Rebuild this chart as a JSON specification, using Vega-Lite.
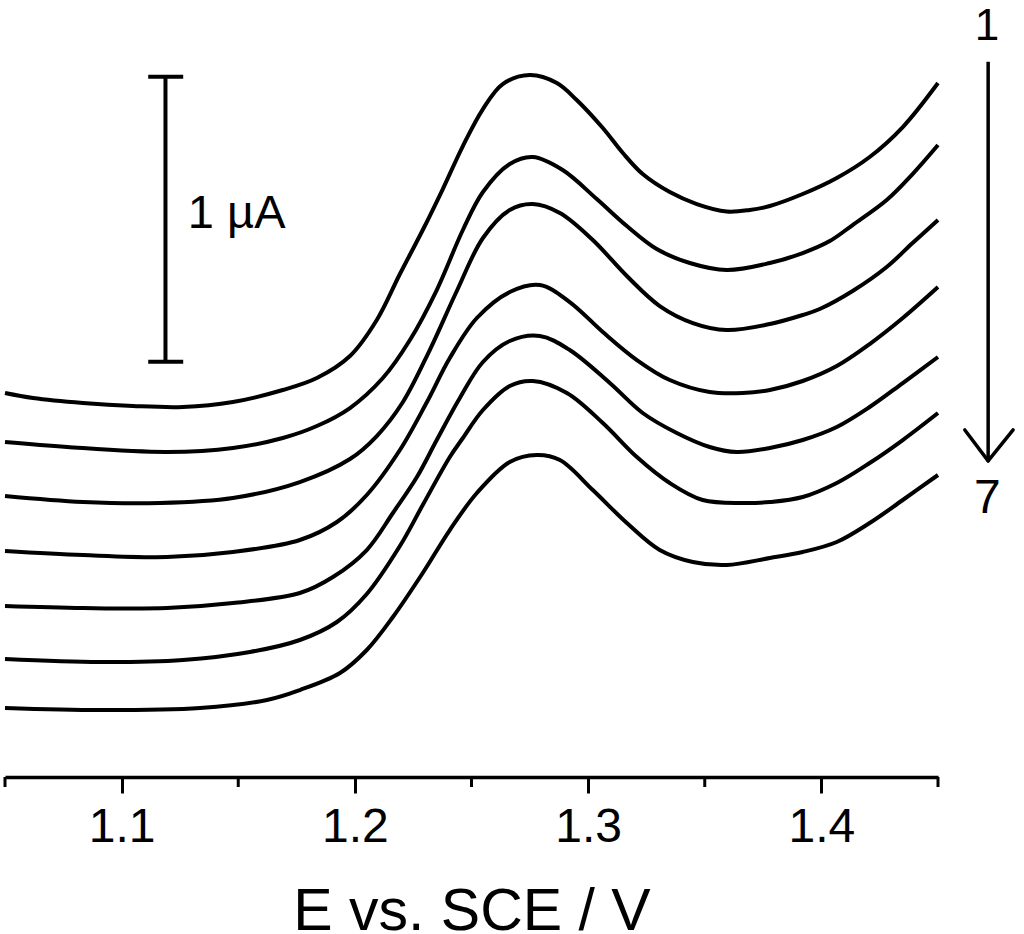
{
  "$schema": "https://vega.github.io/schema/vega-lite/v6.json",
  "width": 933,
  "height": 777,
  "autosize": "none",
  "padding": {"left": 5, "top": 0, "right": 86, "bottom": 157},
  "background": "white",
  "config": {
    "view": {"stroke": null},
    "font": "Liberation Sans",
    "axisX": {
      "grid": false,
      "domainColor": "black", "domainWidth": 3.5,
      "tickColor": "black", "tickWidth": 3, "tickSize": 16,
      "labelFont": "Liberation Sans", "labelFontSize": 48, "labelColor": "black", "labelPadding": 10,
      "titleFont": "Liberation Sans", "titleFontSize": 59, "titleFontWeight": "normal", "titleColor": "black", "titlePadding": 31
    }
  },
  "datasets": {
    "curves": [
      {"scan":1,"E":1.0500,"I":1.3521},{"scan":1,"E":1.0620,"I":1.3345},{"scan":1,"E":1.0834,"I":1.3169},{"scan":1,"E":1.1049,"I":1.3063},{"scan":1,"E":1.1263,"I":1.3028},{"scan":1,"E":1.1477,"I":1.3204},{"scan":1,"E":1.1691,"I":1.3627},{"scan":1,"E":1.1837,"I":1.4049},{"scan":1,"E":1.1979,"I":1.4824},{"scan":1,"E":1.2094,"I":1.6092},{"scan":1,"E":1.2193,"I":1.7711},{"scan":1,"E":1.2291,"I":1.9261},{"scan":1,"E":1.2377,"I":2.0704},{"scan":1,"E":1.2463,"I":2.2218},{"scan":1,"E":1.2549,"I":2.3521},{"scan":1,"E":1.2634,"I":2.4401},{"scan":1,"E":1.2750,"I":2.4718},{"scan":1,"E":1.2866,"I":2.4437},{"scan":1,"E":1.2951,"I":2.3838},{"scan":1,"E":1.3063,"I":2.2852},{"scan":1,"E":1.3149,"I":2.1972},{"scan":1,"E":1.3234,"I":2.1232},{"scan":1,"E":1.3350,"I":2.0598},{"scan":1,"E":1.3466,"I":2.0176},{"scan":1,"E":1.3594,"I":1.9912},{"scan":1,"E":1.3693,"I":1.9965},{"scan":1,"E":1.3779,"I":2.0106},{"scan":1,"E":1.3920,"I":2.0528},{"scan":1,"E":1.4066,"I":2.1092},{"scan":1,"E":1.4207,"I":2.1831},{"scan":1,"E":1.4349,"I":2.2887},{"scan":1,"E":1.4500,"I":2.4437},
      {"scan":2,"E":1.0500,"I":1.1796},{"scan":2,"E":1.0766,"I":1.1620},{"scan":2,"E":1.1194,"I":1.1444},{"scan":2,"E":1.1477,"I":1.1584},{"scan":2,"E":1.1691,"I":1.1937},{"scan":2,"E":1.1837,"I":1.2359},{"scan":2,"E":1.1979,"I":1.2993},{"scan":2,"E":1.2120,"I":1.4049},{"scan":2,"E":1.2236,"I":1.5387},{"scan":2,"E":1.2351,"I":1.7148},{"scan":2,"E":1.2463,"I":1.9261},{"scan":2,"E":1.2549,"I":2.0598},{"scan":2,"E":1.2664,"I":2.1584},{"scan":2,"E":1.2763,"I":2.1831},{"scan":2,"E":1.2891,"I":2.1373},{"scan":2,"E":1.3037,"I":2.0352},{"scan":2,"E":1.3166,"I":1.9401},{"scan":2,"E":1.3294,"I":1.8591},{"scan":2,"E":1.3436,"I":1.8099},{"scan":2,"E":1.3594,"I":1.7852},{"scan":2,"E":1.3779,"I":1.8099},{"scan":2,"E":1.3920,"I":1.8451},{"scan":2,"E":1.4036,"I":1.8873},{"scan":2,"E":1.4134,"I":1.9437},{"scan":2,"E":1.4280,"I":2.0317},{"scan":2,"E":1.4391,"I":2.1232},{"scan":2,"E":1.4500,"I":2.2254},
      {"scan":3,"E":1.0500,"I":0.9894},{"scan":3,"E":1.0834,"I":0.9683},{"scan":3,"E":1.1164,"I":0.9648},{"scan":3,"E":1.1477,"I":0.9824},{"scan":3,"E":1.1764,"I":1.0387},{"scan":3,"E":1.1979,"I":1.1197},{"scan":3,"E":1.2094,"I":1.2007},{"scan":3,"E":1.2206,"I":1.3204},{"scan":3,"E":1.2321,"I":1.5035},{"scan":3,"E":1.2437,"I":1.7113},{"scan":3,"E":1.2549,"I":1.8979},{"scan":3,"E":1.2664,"I":1.9965},{"scan":3,"E":1.2763,"I":2.0176},{"scan":3,"E":1.2879,"I":1.9859},{"scan":3,"E":1.3020,"I":1.8908},{"scan":3,"E":1.3166,"I":1.7641},{"scan":3,"E":1.3307,"I":1.6584},{"scan":3,"E":1.3449,"I":1.5986},{"scan":3,"E":1.3594,"I":1.5739},{"scan":3,"E":1.3779,"I":1.5951},{"scan":3,"E":1.3920,"I":1.6268},{"scan":3,"E":1.3993,"I":1.6479},{"scan":3,"E":1.4134,"I":1.7113},{"scan":3,"E":1.4280,"I":1.7958},{"scan":3,"E":1.4391,"I":1.8803},{"scan":3,"E":1.4500,"I":1.9613},
      {"scan":4,"E":1.0500,"I":0.7958},{"scan":4,"E":1.0834,"I":0.7817},{"scan":4,"E":1.1194,"I":0.7746},{"scan":4,"E":1.1477,"I":0.7923},{"scan":4,"E":1.1764,"I":0.8345},{"scan":4,"E":1.1923,"I":0.8979},{"scan":4,"E":1.2051,"I":0.9930},{"scan":4,"E":1.2193,"I":1.1514},{"scan":4,"E":1.2309,"I":1.3204},{"scan":4,"E":1.2407,"I":1.4754},{"scan":4,"E":1.2523,"I":1.6162},{"scan":4,"E":1.2664,"I":1.7077},{"scan":4,"E":1.2793,"I":1.7324},{"scan":4,"E":1.2921,"I":1.6725},{"scan":4,"E":1.3063,"I":1.5669},{"scan":4,"E":1.3209,"I":1.4683},{"scan":4,"E":1.3350,"I":1.3979},{"scan":4,"E":1.3521,"I":1.3556},{"scan":4,"E":1.3663,"I":1.3521},{"scan":4,"E":1.3779,"I":1.3627},{"scan":4,"E":1.3920,"I":1.3944},{"scan":4,"E":1.4066,"I":1.4472},{"scan":4,"E":1.4207,"I":1.5246},{"scan":4,"E":1.4349,"I":1.6162},{"scan":4,"E":1.4500,"I":1.7253},
      {"scan":5,"E":1.0500,"I":0.6021},{"scan":5,"E":1.0834,"I":0.5951},{"scan":5,"E":1.1194,"I":0.5951},{"scan":5,"E":1.1477,"I":0.6127},{"scan":5,"E":1.1764,"I":0.6479},{"scan":5,"E":1.1906,"I":0.7042},{"scan":5,"E":1.2051,"I":0.7993},{"scan":5,"E":1.2163,"I":0.9296},{"scan":5,"E":1.2266,"I":1.0563},{"scan":5,"E":1.2351,"I":1.1866},{"scan":5,"E":1.2450,"I":1.3345},{"scan":5,"E":1.2549,"I":1.4613},{"scan":5,"E":1.2664,"I":1.5352},{"scan":5,"E":1.2793,"I":1.5528},{"scan":5,"E":1.2921,"I":1.5035},{"scan":5,"E":1.3093,"I":1.3873},{"scan":5,"E":1.3234,"I":1.2817},{"scan":5,"E":1.3380,"I":1.2113},{"scan":5,"E":1.3521,"I":1.1620},{"scan":5,"E":1.3637,"I":1.1444},{"scan":5,"E":1.3779,"I":1.1585},{"scan":5,"E":1.3920,"I":1.1866},{"scan":5,"E":1.4066,"I":1.2324},{"scan":5,"E":1.4207,"I":1.3028},{"scan":5,"E":1.4349,"I":1.3873},{"scan":5,"E":1.4500,"I":1.4789},
      {"scan":6,"E":1.0500,"I":0.4155},{"scan":6,"E":1.0907,"I":0.4049},{"scan":6,"E":1.1263,"I":0.4120},{"scan":6,"E":1.1550,"I":0.4401},{"scan":6,"E":1.1764,"I":0.4824},{"scan":6,"E":1.1923,"I":0.5458},{"scan":6,"E":1.2051,"I":0.6444},{"scan":6,"E":1.2193,"I":0.8134},{"scan":6,"E":1.2291,"I":0.9577},{"scan":6,"E":1.2407,"I":1.1268},{"scan":6,"E":1.2463,"I":1.1937},{"scan":6,"E":1.2549,"I":1.2923},{"scan":6,"E":1.2664,"I":1.3768},{"scan":6,"E":1.2763,"I":1.3944},{"scan":6,"E":1.2909,"I":1.3521},{"scan":6,"E":1.3063,"I":1.2465},{"scan":6,"E":1.3209,"I":1.1268},{"scan":6,"E":1.3350,"I":1.0352},{"scan":6,"E":1.3491,"I":0.9754},{"scan":6,"E":1.3663,"I":0.9648},{"scan":6,"E":1.3779,"I":0.9683},{"scan":6,"E":1.3920,"I":0.9859},{"scan":6,"E":1.4066,"I":1.0352},{"scan":6,"E":1.4207,"I":1.1056},{"scan":6,"E":1.4349,"I":1.1866},{"scan":6,"E":1.4500,"I":1.2817},
      {"scan":7,"E":1.0500,"I":0.2430},{"scan":7,"E":1.0907,"I":0.2359},{"scan":7,"E":1.1336,"I":0.2430},{"scan":7,"E":1.1623,"I":0.2711},{"scan":7,"E":1.1764,"I":0.3063},{"scan":7,"E":1.1936,"I":0.3662},{"scan":7,"E":1.2051,"I":0.4472},{"scan":7,"E":1.2163,"I":0.5634},{"scan":7,"E":1.2291,"I":0.7183},{"scan":7,"E":1.2407,"I":0.8697},{"scan":7,"E":1.2523,"I":1.0000},{"scan":7,"E":1.2664,"I":1.1092},{"scan":7,"E":1.2780,"I":1.1338},{"scan":7,"E":1.2879,"I":1.1162},{"scan":7,"E":1.3020,"I":1.0106},{"scan":7,"E":1.3166,"I":0.8944},{"scan":7,"E":1.3307,"I":0.7993},{"scan":7,"E":1.3449,"I":0.7570},{"scan":7,"E":1.3594,"I":0.7465},{"scan":7,"E":1.3779,"I":0.7711},{"scan":7,"E":1.3920,"I":0.7923},{"scan":7,"E":1.4066,"I":0.8275},{"scan":7,"E":1.4207,"I":0.8944},{"scan":7,"E":1.4349,"I":0.9754},{"scan":7,"E":1.4500,"I":1.0634}
    ],
    "minorTicks": [
      {"E":1.05,"I1":0,"I2":-0.0352},{"E":1.15,"I1":0,"I2":-0.0352},{"E":1.25,"I1":0,"I2":-0.0352},{"E":1.35,"I1":0,"I2":-0.0352},{"E":1.45,"I1":0,"I2":-0.0352}
    ],
    "scaleBar": [{"E":1.1188,"I1":1.462,"I2":2.466}],
    "scaleCaps": [{"E1":1.1114,"E2":1.1264,"I":2.466},{"E1":1.1114,"E2":1.1264,"I":1.462}],
    "scaleLabel": [{"E":1.1284,"I":1.933,"text":"1 µA"}],
    "arrowShaft": [{"E":1.4715,"I1":1.118,"I2":2.519}],
    "arrowHead": [{"E1":1.4615,"I1":1.222,"E2":1.4715,"I2":1.113},{"E1":1.4822,"I1":1.222,"E2":1.4715,"I2":1.113}],
    "arrowLabels": [{"E":1.4710,"I":2.595,"text":"1","size":44},{"E":1.4712,"I":0.9285,"text":"7","size":48}]
  },
  "layer": [
    {
      "data": {"name": "curves"},
      "mark": {"type": "line", "interpolate": "catmull-rom", "color": "black", "strokeWidth": 4},
      "encoding": {
        "x": {
          "field": "E", "type": "quantitative",
          "title": "E vs. SCE / V",
          "scale": {"domain": [1.05, 1.45], "nice": false, "zero": false},
          "axis": {
            "title": "E vs. SCE / V",
            "values": [1.1, 1.2, 1.3, 1.4],
            "format": ".1f",
            "grid": false,
            "domainColor": "black", "domainWidth": 3.5,
            "tickColor": "black", "tickWidth": 3, "tickSize": 16,
            "labelFont": "Liberation Sans", "labelFontSize": 48, "labelColor": "black", "labelPadding": 10,
            "titleFont": "Liberation Sans", "titleFontSize": 59, "titleFontWeight": "normal", "titleColor": "black", "titlePadding": 31
          }
        },
        "y": {
          "field": "I", "type": "quantitative",
          "scale": {"domain": [0, 2.736], "nice": false, "zero": false},
          "axis": null
        },
        "detail": {"field": "scan", "type": "nominal"}
      }
    },
    {
      "data": {"name": "minorTicks"},
      "mark": {"type": "rule", "color": "black", "strokeWidth": 3},
      "encoding": {
        "x": {"field": "E", "type": "quantitative", "title": "E vs. SCE / V"},
        "y": {"field": "I1", "type": "quantitative", "axis": null},
        "y2": {"field": "I2"}
      }
    },
    {
      "data": {"name": "scaleBar"},
      "mark": {"type": "rule", "color": "black", "strokeWidth": 4},
      "encoding": {
        "x": {"field": "E", "type": "quantitative", "title": "E vs. SCE / V"},
        "y": {"field": "I1", "type": "quantitative", "axis": null},
        "y2": {"field": "I2"}
      }
    },
    {
      "data": {"name": "scaleCaps"},
      "mark": {"type": "rule", "color": "black", "strokeWidth": 4},
      "encoding": {
        "x": {"field": "E1", "type": "quantitative", "title": "E vs. SCE / V"},
        "x2": {"field": "E2"},
        "y": {"field": "I", "type": "quantitative", "axis": null}
      }
    },
    {
      "data": {"name": "scaleLabel"},
      "mark": {"type": "text", "align": "left", "baseline": "alphabetic", "fontSize": 47, "font": "Liberation Sans", "color": "black"},
      "encoding": {
        "x": {"field": "E", "type": "quantitative", "title": "E vs. SCE / V"},
        "y": {"field": "I", "type": "quantitative", "axis": null},
        "text": {"field": "text"}
      }
    },
    {
      "data": {"name": "arrowShaft"},
      "mark": {"type": "rule", "color": "black", "strokeWidth": 3.5},
      "encoding": {
        "x": {"field": "E", "type": "quantitative", "title": "E vs. SCE / V"},
        "y": {"field": "I1", "type": "quantitative", "axis": null},
        "y2": {"field": "I2"}
      }
    },
    {
      "data": {"name": "arrowHead"},
      "mark": {"type": "rule", "color": "black", "strokeWidth": 3.5, "strokeCap": "round"},
      "encoding": {
        "x": {"field": "E1", "type": "quantitative", "title": "E vs. SCE / V"},
        "x2": {"field": "E2"},
        "y": {"field": "I1", "type": "quantitative", "axis": null},
        "y2": {"field": "I2"}
      }
    },
    {
      "data": {"name": "arrowLabels"},
      "mark": {"type": "text", "align": "center", "baseline": "alphabetic", "font": "Liberation Sans", "color": "black"},
      "encoding": {
        "x": {"field": "E", "type": "quantitative", "title": "E vs. SCE / V"},
        "y": {"field": "I", "type": "quantitative", "axis": null},
        "text": {"field": "text"},
        "size": {"field": "size", "type": "quantitative", "scale": null, "legend": null}
      }
    }
  ]
}
